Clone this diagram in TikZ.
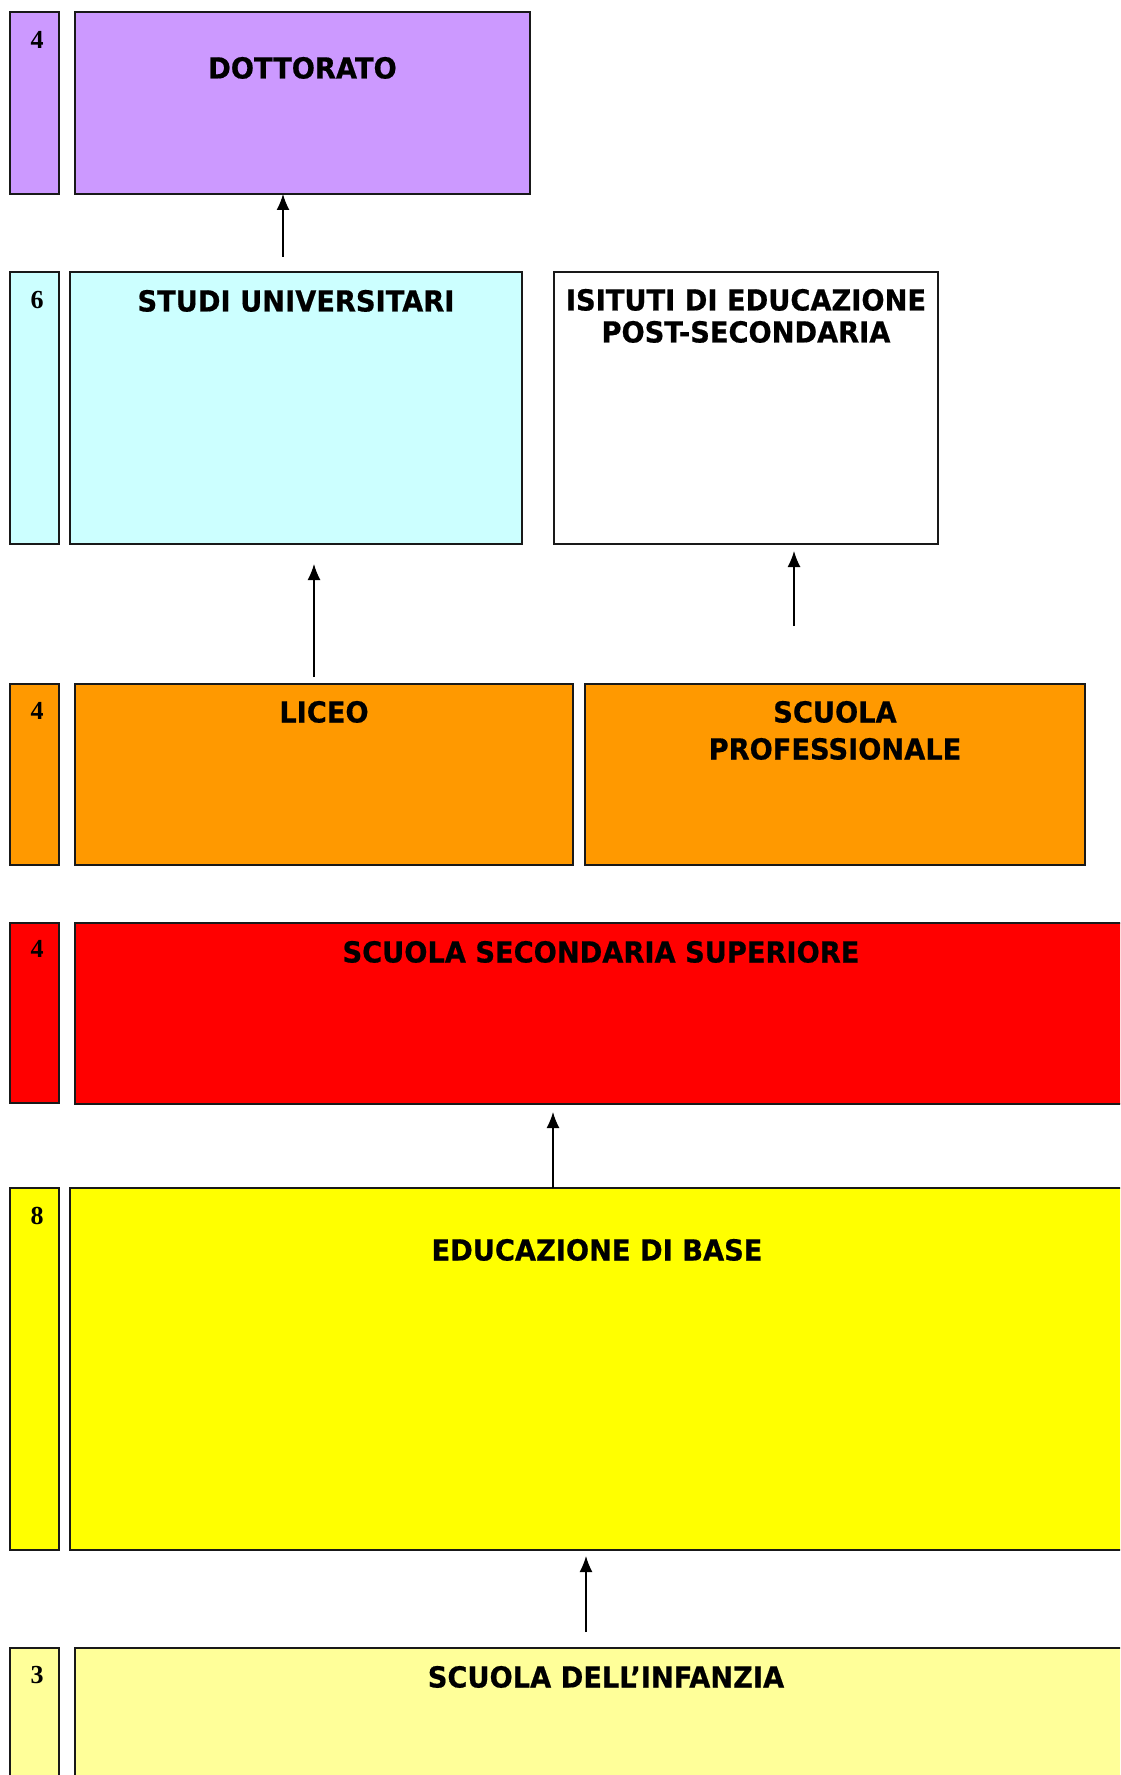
\documentclass[tikz,border=0pt]{standalone}
\usepackage{fontspec}
\newfontfamily\labfont[FakeStretch=0.94,FakeBold=0.6]{DejaVu Sans}
\newfontfamily\numfont{Liberation Serif}
\usetikzlibrary{arrows.meta,calc}
\definecolor{cPurple}{HTML}{CC99FF}
\definecolor{cCyan}{HTML}{CCFFFF}
\definecolor{cOrange}{HTML}{FF9900}
\definecolor{cRed}{HTML}{FF0000}
\definecolor{cYellow}{HTML}{FFFF00}
\definecolor{cLightYellow}{HTML}{FFFF99}
\newcommand\mkbox[6]{\node[box,fill=#6,minimum width={(#4-#2)*0.5pt},minimum height={(#5-#3)*0.5pt}] (#1) at (#2,#3) {};}
\begin{document}
\begin{tikzpicture}[x=0.5pt,y=-0.5pt,
  box/.style={draw=black!90, line width=1pt, anchor=north west, inner sep=0pt, outer sep=0pt},
  lab/.style={font=\labfont\bfseries\fontsize{14.5}{17}\selectfont, anchor=base, inner sep=0pt},
  num/.style={font=\numfont\bfseries\fontsize{13}{15}\selectfont, anchor=base, inner sep=0pt},
  arr/.style={-{Latex[length=8pt,width=6.5pt]}, line width=0.7pt}]
\useasboundingbox (0,0) rectangle (1120,1775);
\clip (0,0) rectangle (1120,1775);
% row 1
\mkbox{y1}{10}{12.5}{59}{194}{cPurple}
\mkbox{dott}{75}{12.5}{530}{194}{cPurple}
\node[num] (n1) at (37,48.5) {4};
\node[lab] (tdott) at (302.5,78.5) {DOTTORATO};
% row 2
\mkbox{y2}{10}{272}{59}{544}{cCyan}
\mkbox{studi}{70}{272}{522}{544}{cCyan}
\mkbox{isit}{554}{272}{938}{544}{white}
\node[num] (n2) at (37,308.5) {6};
\node[lab] (tstudi) at (296,311.5) {STUDI UNIVERSITARI};
\node[lab] (tisit1) at (746,310.5) {ISITUTI DI EDUCAZIONE};
\node[lab] (tisit2) at (746,342.5) {POST-SECONDARIA};
% row 3
\mkbox{y3}{10}{684}{59}{865}{cOrange}
\mkbox{liceo}{75}{684}{573}{865}{cOrange}
\mkbox{prof}{585}{684}{1085}{865}{cOrange}
\node[num] (n3) at (37,719.5) {4};
\node[lab] (tliceo) at (324,722.5) {LICEO};
\node[lab] (tprof1) at (835,722.5) {SCUOLA};
\node[lab] (tprof2) at (835,759.5) {PROFESSIONALE};
% row 4
\mkbox{y4}{10}{923}{59}{1103}{cRed}
\mkbox{sup}{75}{923}{1127}{1104}{cRed}
\node[num] (n4) at (37,957.5) {4};
\node[lab] (tsup) at (601,962.5) {SCUOLA SECONDARIA SUPERIORE};
% row 5
\mkbox{y5}{10}{1188}{59}{1550}{cYellow}
\mkbox{base}{70}{1188}{1124}{1550}{cYellow}
\node[num] (n5) at (37,1224.5) {8};
\node[lab] (tbase) at (597,1260.5) {EDUCAZIONE DI BASE};
% row 6
\mkbox{y6}{10}{1648}{59}{1800}{cLightYellow}
\mkbox{inf}{75}{1648}{1137}{1800}{cLightYellow}
\node[num] (n6) at (37,1683.5) {3};
\node[lab] (tinf) at (606,1687.5) {SCUOLA DELL’INFANZIA};
% arrows
\coordinate (a1s) at (283,257);
\draw[arr] (a1s) -- (a1s |- dott.south);
\coordinate (a2s) at (314,677);
\coordinate (a2e) at (314,564);
\draw[arr] (a2s) -- (a2e);
\coordinate (a3s) at (794,626);
\coordinate (a3e) at (794,551);
\draw[arr] (a3s) -- (a3e);
\coordinate (a4e) at (553,1112);
\draw[arr] (a4e |- base.north) -- (a4e);
\coordinate (a5s) at (586,1632);
\coordinate (a5e) at (586,1556);
\draw[arr] (a5s) -- (a5e);
\end{tikzpicture}
\end{document}
